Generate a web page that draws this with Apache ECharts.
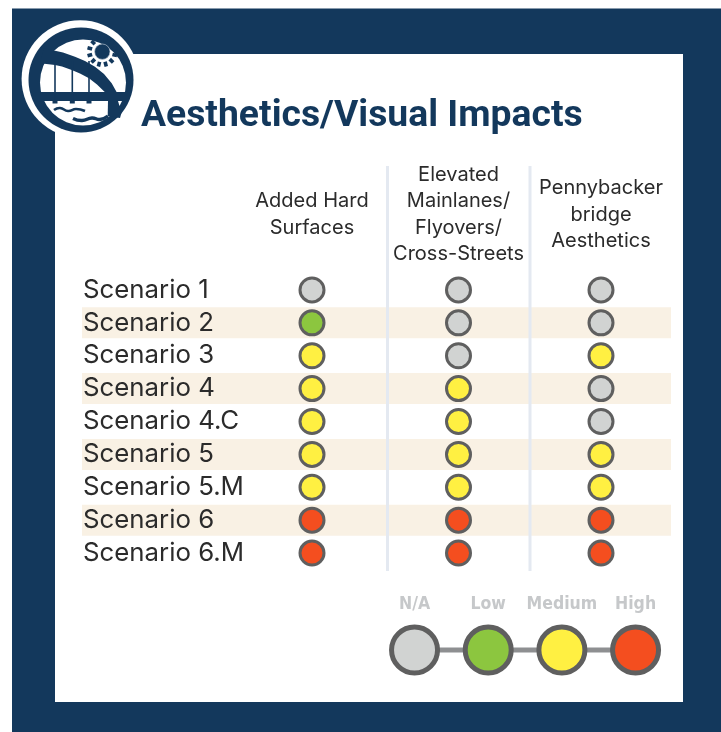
<!DOCTYPE html>
<html>
<head>
<meta charset="utf-8">
<style>
html, body { margin: 0; padding: 0; background: #fff; }
#main { width: 721px; height: 732px; }
</style>
<script src="https://cdn.jsdelivr.net/npm/echarts@6/dist/echarts.min.js"></script>
</head>
<body>
<div id="main"></div>
<script>
var titleText = 'Aesthetics/Visual Impacts';
var scenarios = ['Scenario 1', 'Scenario 2', 'Scenario 3', 'Scenario 4', 'Scenario 4.C', 'Scenario 5', 'Scenario 5.M', 'Scenario 6', 'Scenario 6.M'];
var stripes = [0, 1, 0, 1, 0, 1, 0, 1, 0];
var levels = ['N/A', 'Low', 'Medium', 'High'];
var levelColors = ['#d1d3d2', '#8cc63f', '#fff042', '#f44e1f'];

var headers = ['Added Hard\nSurfaces', 'Elevated\nMainlanes/\nFlyovers/\nCross-Streets', 'Pennybacker\nbridge\nAesthetics'];
var addedHardSurfaces = ['N/A', 'Low', 'Medium', 'Medium', 'Medium', 'Medium', 'Medium', 'High', 'High'];
var elevatedMainlanes = ['N/A', 'N/A', 'N/A', 'Medium', 'Medium', 'Medium', 'Medium', 'High', 'High'];
var pennybackerBridge = ['N/A', 'N/A', 'Medium', 'N/A', 'N/A', 'Medium', 'Medium', 'High', 'High'];
var columns = [addedHardSurfaces, elevatedMainlanes, pennybackerBridge];

var navy = '#13385c';
var ringColor = '#5f5f5f';
var bodyFont = 'Inter';
var rowTop = 273.5, rowHeight = 296;
var columnCenters = [312, 458.5, 601];

function levelColor(name) {
	return levelColors[levels.indexOf(name)];
}

var grids = [{ left: 82, right: 50, top: rowTop, height: rowHeight }];
var xAxes = [{ gridIndex: 0, type: 'value', min: 0, max: 1, show: false }];
var yAxes = [{
	gridIndex: 0,
	type: 'category',
	inverse: true,
	z: 4,
	data: scenarios,
	axisLine: { show: false },
	axisTick: { show: false },
	axisLabel: {
		inside: true,
		interval: 0,
		margin: 1,
		padding: [0, 0, 4, 0],
		color: '#2b2b2b',
		fontFamily: bodyFont,
		fontSize: 25.8
	}
}];
var series = [{
	type: 'bar',
	xAxisIndex: 0,
	yAxisIndex: 0,
	barWidth: 31,
	silent: true,
	z: 1,
	itemStyle: { color: '#f9f1e4' },
	data: stripes
}];

// one small grid per column because the columns are not quite evenly spaced
columns.forEach(function (values, i) {
	var idx = i + 1;
	grids.push({ left: columnCenters[i] - 70, width: 140, top: rowTop, height: rowHeight });
	xAxes.push({
		gridIndex: idx,
		type: 'category',
		position: 'top',
		data: [headers[i]],
		axisLine: { show: false },
		axisTick: { show: false },
		axisLabel: {
			margin: 59,
			interval: 0,
			verticalAlign: 'middle',
			lineHeight: 26.3,
			color: '#2b2b2b',
			fontFamily: bodyFont,
			fontSize: 20
		}
	});
	yAxes.push({
		gridIndex: idx,
		type: 'category',
		inverse: true,
		data: scenarios,
		show: false
	});
	series.push({
		type: 'scatter',
		xAxisIndex: idx,
		yAxisIndex: idx,
		symbol: 'circle',
		symbolSize: 24,
		silent: true,
		z: 3,
		data: values.map(function (v, r) {
			return {
				value: [0, r],
				itemStyle: { color: levelColor(v), borderColor: ringColor, borderWidth: 3, opacity: 1 }
			};
		})
	});
});

// the N/A - High key
grids.push({ left: 377.7, width: 294.7, top: 625, height: 50 });
xAxes.push({
	gridIndex: 4,
	type: 'category',
	position: 'top',
	data: levels,
	axisLine: { show: false },
	axisTick: { show: false },
	axisLabel: {
		margin: 12,
		interval: 0,
		color: '#c6c8ca',
		fontFamily: 'DejaVu Sans Condensed',
		fontWeight: 'bold',
		fontSize: 17.5
	}
});
yAxes.push({ gridIndex: 4, type: 'category', data: ['key'], show: false });
series.push({
	type: 'line',
	xAxisIndex: 4,
	yAxisIndex: 4,
	symbol: 'none',
	silent: true,
	z: 2,
	lineStyle: { color: '#8e8f91', width: 5 },
	data: levels.map(function (l) { return [l, 'key']; })
});
series.push({
	type: 'scatter',
	xAxisIndex: 4,
	yAxisIndex: 4,
	symbol: 'circle',
	symbolSize: 46,
	silent: true,
	z: 3,
	data: levels.map(function (l) {
		return {
			value: [l, 'key'],
			itemStyle: { color: levelColor(l), borderColor: ringColor, borderWidth: 5, opacity: 1 }
		};
	})
});

// logo: ring, sun, bridge and water
var logo = [
	{ type: 'circle', shape: { cx: 80.3, cy: 79, r: 58.7 }, style: { fill: '#fff' } },
	{ type: 'circle', shape: { cx: 81, cy: 80, r: 52.5 }, style: { fill: navy } },
	{ type: 'circle', shape: { cx: 83, cy: 82.5, r: 43 }, style: { fill: '#fff' } }
];
for (var a = 0; a < 12; a++) {
	var ang = a * Math.PI / 6 + 0.26;
	logo.push({
		type: 'line',
		shape: {
			x1: 102.3 + 10.5 * Math.cos(ang), y1: 51.7 + 10.5 * Math.sin(ang),
			x2: 102.3 + 15.3 * Math.cos(ang), y2: 51.7 + 15.3 * Math.sin(ang)
		},
		style: { stroke: navy, lineWidth: 3.6 }
	});
}
logo.push(
	{ type: 'circle', shape: { cx: 102.3, cy: 51.7, r: 7.7 }, style: { fill: navy, stroke: '#c9d2dc', lineWidth: 0.6 } },
	{ type: 'polygon', shape: { points: [[44, 48], [51.7, 50], [63, 52.5], [75, 56.7], [85, 61], [95, 66.7], [104, 74], [111.7, 83.3], [116.7, 92.3], [105, 92.3], [97, 84.5], [89, 78.3], [80, 73.5], [71.7, 70], [62, 66.5], [55, 65], [40, 63.3]] }, style: { fill: navy } },
	{ type: 'rect', shape: { x: 39, y: 92, width: 88, height: 9 }, style: { fill: navy } },
	{ type: 'polygon', shape: { points: [[108, 101], [125, 101], [120, 118], [107.7, 116]] }, style: { fill: navy } },
	{ type: 'polygon', shape: { points: [[118, 101], [122, 101], [119.5, 106]] }, style: { fill: '#fff' } }
);
[55, 72.3, 89].forEach(function (x) {
	logo.push({ type: 'line', shape: { x1: x, y1: 61, x2: x, y2: 103 }, style: { stroke: navy, lineWidth: 1.6 } });
	logo.push({ type: 'rect', shape: { x: x - 2.5, y: 100, width: 5, height: 3.5 }, style: { fill: navy } });
});
logo.push(
	{ type: 'polyline', shape: { points: [[54, 110], [60, 108], [68, 111], [76, 109], [85, 111]], smooth: 0.5 }, style: { stroke: navy, lineWidth: 2.6, fill: 'none' } },
	{ type: 'polyline', shape: { points: [[73, 118.5], [82, 120.5], [92, 118], [100, 119.5], [108, 116]], smooth: 0.5 }, style: { stroke: navy, lineWidth: 3.4, fill: 'none' } }
);

var option = {
	animation: false,
	backgroundColor: '#fff',
	title: {
		text: titleText,
		left: 136,
		top: 93,
		textStyle: { color: navy, fontFamily: 'Roboto', fontWeight: 'bold', fontSize: 37.3 }
	},
	graphic: [
		{ type: 'rect', z: -10, shape: { x: 12, y: 8.5, width: 709, height: 724 }, style: { fill: navy } },
		{ type: 'rect', z: -9, shape: { x: 55, y: 54, width: 628, height: 648 }, style: { fill: '#fff' } },
		{ type: 'rect', z: 5, shape: { x: 386, y: 166, width: 3, height: 405 }, style: { fill: '#e4e9f1' } },
		{ type: 'rect', z: 5, shape: { x: 528.5, y: 166, width: 3, height: 405 }, style: { fill: '#e4e9f1' } },
		{ type: 'group', z: 6, children: logo }
	],
	grid: grids,
	xAxis: xAxes,
	yAxis: yAxes,
	series: series
};

var myChart = echarts.init(document.getElementById('main'), null, { renderer: 'canvas' });
myChart.setOption(option);
</script>
</body>
</html>
